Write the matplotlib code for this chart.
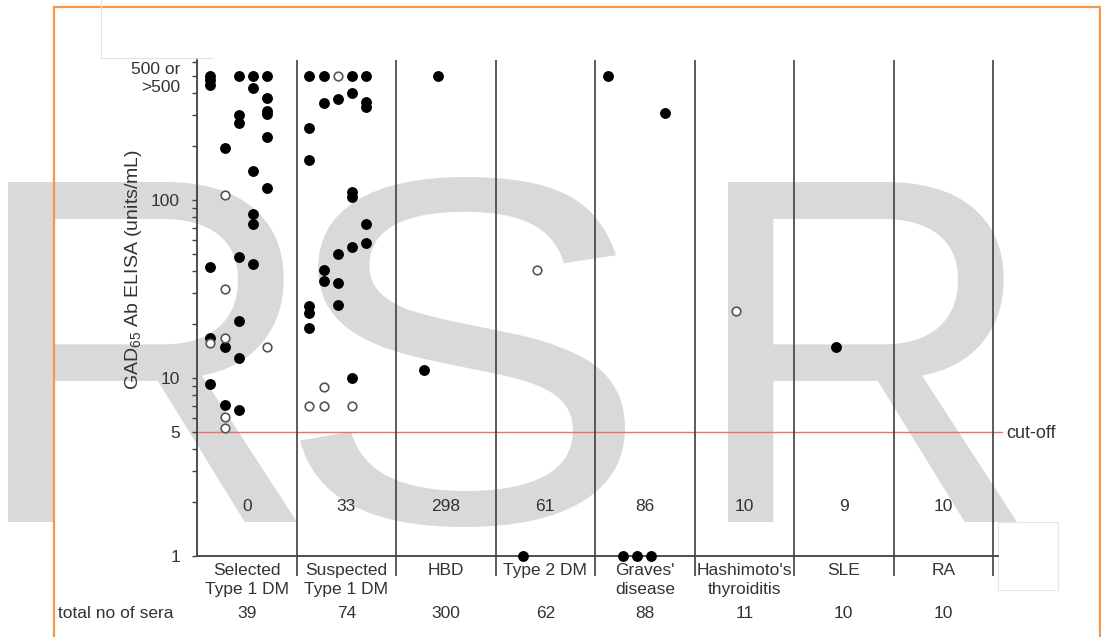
import matplotlib
matplotlib.use("Agg")
import matplotlib.pyplot as plt
from matplotlib.patches import Rectangle, PathPatch
from matplotlib.lines import Line2D
from matplotlib.ticker import FixedLocator, NullFormatter
from matplotlib.textpath import TextPath
from matplotlib.transforms import Affine2D, IdentityTransform
from matplotlib.font_manager import FontProperties

plt.rcParams['font.family'] = ['Liberation Sans', 'DejaVu Sans']
plt.rcParams['mathtext.fontset'] = 'custom'
plt.rcParams['mathtext.rm'] = 'Liberation Sans'
plt.rcParams['mathtext.it'] = 'Liberation Sans:italic'

# categorias y totales
categorias = ["Selected\nType 1 DM", "Suspected\nType 1 DM", "HBD", "Type 2 DM",
              "Graves'\ndisease", "Hashimoto's\nthyroiditis", "SLE", "RA"]
negativos = [0, 33, 298, 61, 86, 10, 9, 10]
total_sueros = [39, 74, 300, 62, 88, 11, 10, 10]

# posiciones de las columnas de puntos dentro de cada categoria
columnas = [0.13, 0.28, 0.42, 0.56, 0.70]

# puntos: categoria, columna, valor (units/mL), relleno (1) o abierto (0)
pt_cat = [0, 0, 0, 0, 0, 0, 0, 0, 0, 0, 0, 0, 0, 0, 0, 0, 0, 0,
          0, 0, 0, 0, 0, 0, 0, 0, 0, 0,
          0, 0, 0, 0, 0, 0, 0,
          1, 1, 1, 1, 1, 1, 1, 1, 1, 1, 1, 1, 1, 1, 1, 1, 1, 1, 1, 1,
          1, 1, 1, 1, 1, 1, 1, 1, 1, 1,
          2, 2, 3, 3, 4, 4, 4, 4, 4, 5, 6]
pt_col = [0, 0, 0, 2, 3, 4, 3, 4, 4, 4, 2, 2, 4, 1, 3, 4, 3, 3,
          2, 3, 0, 2, 0, 1, 2, 0, 1, 2,
          1, 1, 0, 1, 4, 1, 1,
          0, 1, 2, 3, 4, 1, 2, 3, 4, 4, 0, 0, 3, 3, 4, 4, 3, 2, 1, 1,
          2, 2, 0, 0, 0, 3, 1, 0, 1, 3,
          2, 1, 2, 1, 0, 4, 1, 2, 3, 2, 2]
pt_val = [500, 470, 445, 500, 500, 500, 428, 373, 318, 305, 300, 270, 227, 197, 146, 117, 84, 73,
          48, 43.7, 41.9, 21, 16.7, 15.0, 12.9, 9.3, 7.05, 6.6,
          107, 31.5, 15.8, 16.7, 15.0, 6.06, 5.22,
          500, 500, 500, 500, 500, 349, 369, 397, 357, 334, 255, 168, 111, 104, 73, 57.5, 54.2, 49.8, 40.4, 35.2,
          34.0, 25.7, 25.4, 23.1, 19.0, 9.96, 8.93, 6.99, 6.99, 6.99,
          500, 11.1, 40.4, 1, 500, 307, 1, 1, 1, 23.9, 15.0]
pt_fill = [1, 1, 1, 1, 1, 1, 1, 1, 1, 1, 1, 1, 1, 1, 1, 1, 1, 1,
           1, 1, 1, 1, 1, 1, 1, 1, 1, 1,
           0, 0, 0, 0, 0, 0, 0,
           1, 1, 0, 1, 1, 1, 1, 1, 1, 1, 1, 1, 1, 1, 1, 1, 1, 1, 1, 1,
           1, 1, 1, 1, 1, 1, 0, 0, 0, 0,
           1, 1, 0, 1, 1, 1, 1, 1, 1, 0, 1]

W, H = 1101, 637
gris = '#404040'
texto = '#333333'

fig = plt.figure(figsize=(W / 100, H / 100), dpi=100)

# marca de agua RSR (cajas en pixeles: izq, der, arriba, abajo)
fp = FontProperties(family='Liberation Sans')
cajas = [("R", 8, 297, 182, 522), ("S", 300, 625, 177, 527), ("R", 728, 1017, 182, 522)]
for letra, x0, x1, y0, y1 in cajas:
    p = TextPath((0, 0), letra, size=100, prop=fp)
    ext = p.get_extents()
    tr = (Affine2D().translate(-ext.x0, -ext.y0)
          .scale((x1 - x0) / ext.width, (y1 - y0) / ext.height)
          .translate(x0, H - y1))
    fig.add_artist(PathPatch(tr.transform_path(p), fc='#d9d9d9', ec='none',
                             transform=IdentityTransform(), zorder=-5))

# marco naranja y recuadros tenues
fig.add_artist(Rectangle((54 / W, -0.1), (1100 - 54) / W, 1 - 7 / H + 0.1,
                         transform=fig.transFigure, fill=False,
                         ec='#f79646', lw=1.6, zorder=-4))
fig.add_artist(Rectangle((998 / W, 1 - 590 / H), 60 / W, 68 / H,
                         transform=fig.transFigure, fc='white',
                         ec='#e6e6e6', lw=0.8, zorder=-3))
fig.add_artist(Line2D([101 / W, 101 / W, 212 / W], [1.0, 1 - 58 / H, 1 - 58 / H],
                      transform=fig.transFigure, color='#e2e2e2', lw=0.8, zorder=-3))

ax = fig.add_axes([197 / W, 1 - 556 / H, (998 - 197) / W, (556 - 60) / H])
ax.patch.set_visible(False)
ax.set_yscale('log')
ax.set_ylim(1, 612)
ax.set_xlim(0, 8.05)

for s in ['top', 'right']:
    ax.spines[s].set_visible(False)
for s in ['left', 'bottom']:
    ax.spines[s].set_color(gris)
    ax.spines[s].set_linewidth(1.3)

ax.yaxis.set_major_locator(FixedLocator([1, 5, 10, 100, 500]))
ax.set_yticklabels(['1', '5', '10', '100', '500 or\n>500'])
menores = [2, 3, 4, 6, 7, 8, 9, 20, 30, 40, 50, 60, 70, 80, 90, 200, 300, 400, 600]
ax.yaxis.set_minor_locator(FixedLocator(menores))
ax.yaxis.set_minor_formatter(NullFormatter())
ax.tick_params(axis='y', which='both', direction='out', length=3.6, width=1,
               color=gris, pad=8.6, labelsize=12.5, labelcolor=texto)
ax.set_xticks([])

# divisiones entre categorias
ax.vlines(range(1, 9), -0.04, 1, transform=ax.get_xaxis_transform(),
          colors=gris, lw=1.2, clip_on=False)

# linea de corte
ax.plot([0, 8.09], [5, 5], color='#f07070', lw=1, clip_on=False, zorder=1)
ax.text(8.13, 4.6, 'cut-off', fontsize=13, color=texto, ha='left', va='baseline')

# puntos
for c, k, v, f in zip(pt_cat, pt_col, pt_val, pt_fill):
    x = c + columnas[k]
    if f:
        ax.plot(x, v, 'o', ms=6.8, color='black', mec='black', clip_on=False, zorder=3)
    else:
        ax.plot(x, v, 'o', ms=6.2, mfc='white', mec='#555555', mew=1.2, clip_on=False, zorder=3)

xt = ax.get_xaxis_transform()
for i, (cat, neg, tot) in enumerate(zip(categorias, negativos, total_sueros)):
    ax.text(i + 0.5, 1.79, str(neg), ha='center', va='baseline', fontsize=12.5, color=texto)
    ax.text(i + 0.5, -0.014, cat, transform=xt, ha='center', va='top',
            fontsize=12.5, color=texto, linespacing=1.35)
    ax.text(i + 0.5, -(618 - 556) / 496, str(tot), transform=xt, ha='center',
            va='baseline', fontsize=12.5, color=texto)

fig.text(58 / W, 1 - 618 / H, 'total no of sera', fontsize=12.5, color=texto,
         ha='left', va='baseline')
fig.text(133 / W, 1 - 270 / H, 'GAD$_{65}$ Ab ELISA (units/mL)', rotation=90,
         fontsize=14, color=texto, ha='center', va='center')

fig.savefig('out.png', dpi=100)
